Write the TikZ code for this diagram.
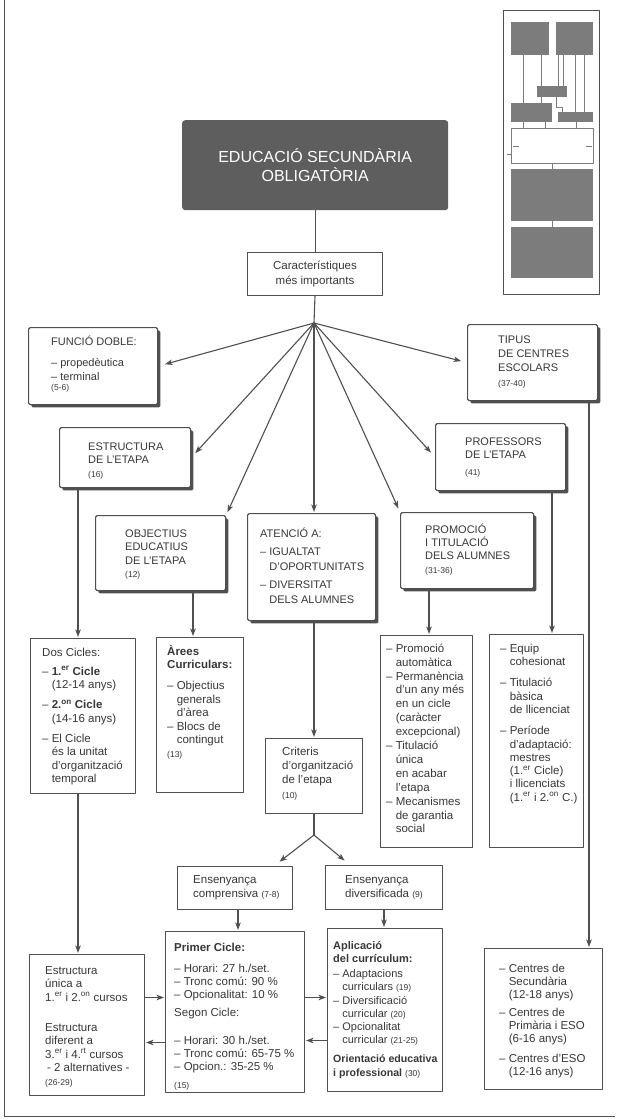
\documentclass[tikz,border=0pt]{standalone}
\usepackage{fontspec}
\setmainfont{Liberation Sans}
\usetikzlibrary{arrows.meta,shadows}
\definecolor{lc}{HTML}{505050}
\definecolor{tc}{HTML}{383838}
\definecolor{dk}{HTML}{5E5E5E}
\definecolor{tb}{HTML}{7C7C7C}
\newcommand\F[2]{\fontsize{#1}{#2}\selectfont}
\newcommand\up{\rule{0pt}{11pt}}
\newcommand\ind{\hphantom{– }}
\newcommand\sm[1]{{\fontsize{8.5}{10}\selectfont #1}}
\newcommand\su[1]{\textsuperscript{#1}}
\begin{document}
\begin{tikzpicture}[x=1pt,y=-1pt,line join=round,
  bx/.style={draw=lc, line width=1pt, fill=white, inner sep=0pt, anchor=north west},
  sbx/.style={bx, line width=1.2pt, rounded corners=1.5pt,
     drop shadow={shadow xshift=2.8pt, shadow yshift=-2.8pt, fill=lc, opacity=1}},
  tx/.style={text=tc, inner sep=0pt, anchor=north west, align=left, font=\F{11.5}{13.5}},
  captx/.style={tx, font=\F{11}{13.5}},
  ln/.style={draw=lc, line width=1.1pt},
  arr/.style={ln, -{Stealth[length=7.5pt,width=5.5pt,inset=2pt]}, shorten >=1pt}]
\useasboundingbox (0,0) rectangle (617,1119);
\fill[white] (0,0) rectangle (617,1119);

% frame
\draw[lc, line width=0.8pt] (4,0) -- (4,1116) -- (615,1116);

% thumbnail
\draw[lc, line width=0.8pt] (503,10) rectangle (599,294);
\fill[tb] (511,22) rectangle (549,55);
\fill[tb] (556,22) rectangle (593,55);
\fill[tb] (537,86) rectangle (567,97);
\fill[tb] (511,103) rectangle (552,122);
\fill[tb] (558,112) rectangle (593,122);
\fill[tb] (511,169) rectangle (593,221);
\fill[tb] (511,227) rectangle (593,278);
\draw[tb, line width=0.8pt] (511,128) rectangle (593,163);
\draw[tb, line width=0.9pt] (523,55)--(523,103) (541,55)--(541,86) (558,55)--(558,86)
  (563,55)--(563,86) (575,55)--(575,112) (584,55)--(584,112) (541,97)--(541,103)
  (556,97)--(556,107)--(562,107)--(562,112) (523,122)--(523,128) (545,122)--(545,128)
  (576,122)--(576,128) (552,163)--(552,169) (552,221)--(552,227)
  (513,146)--(519,146) (586,146)--(592,146) (507,154)--(511,154);

% title
\node[anchor=north west, fill=dk, rounded corners=3pt, minimum width=266pt, minimum height=90pt,
      text=white, align=center, font=\F{16}{19.5}, inner sep=0pt] (title) at (182,120)
      {EDUCACIÓ SECUNDÀRIA\\OBLIGATÒRIA};
\node[bx, minimum width=135pt, minimum height=43pt, align=center, text=tc, font=\F{11.5}{15}] (carac) at (247,252)
      {Característiques\\més importants};

% shadow boxes
\node[sbx, minimum width=129pt, minimum height=77pt] (funcio) at (28,327) {};
\node[sbx, minimum width=131pt, minimum height=60pt] (estruct) at (59,427) {};
\node[sbx, minimum width=130pt, minimum height=75pt] (object) at (95,515) {};
\node[sbx, minimum width=128pt, minimum height=107pt] (atencio) at (247,513) {};
\node[sbx, minimum width=133pt, minimum height=76pt] (promo) at (400,512) {};
\node[sbx, minimum width=130pt, minimum height=67pt] (profs) at (435,423) {};
\node[sbx, minimum width=130pt, minimum height=76pt] (tipus) at (467,324) {};

% plain boxes
\node[bx, minimum width=105pt, minimum height=155pt] (dos) at (30,638) {};
\node[bx, minimum width=87pt, minimum height=155pt] (arees) at (156,637) {};
\node[bx, minimum width=97pt, minimum height=75pt] (crit) at (265,738) {};
\node[bx, minimum width=92pt, minimum height=212pt] (plist) at (380,635) {};
\node[bx, minimum width=94pt, minimum height=213pt] (proflist) at (489,634) {};
\node[bx, minimum width=115pt, minimum height=43pt] (compr) at (177,866) {};
\node[bx, minimum width=117pt, minimum height=44pt] (divers) at (325,865) {};
\node[bx, minimum width=115pt, minimum height=141pt] (estunica) at (29,954) {};
\node[bx, minimum width=139pt, minimum height=161pt] (primer) at (165,931) {};
\node[bx, minimum width=115pt, minimum height=163pt] (aplic) at (327,928) {};
\node[bx, minimum width=118pt, minimum height=141pt] (centres) at (484,948) {};

% texts
\node[captx] (tfuncio) at (51,334) {\up FUNCIÓ DOBLE:\\[8pt]{\F{11}{14}– propedèutica}\\{\F{11}{14}– terminal}\\[-3pt]\sm{(5-6)}};
\node[captx] (testruct) at (88,439) {\up ESTRUCTURA\\DE L'ETAPA\\\sm{(16)}};
\node[captx] (tobject) at (125,526) {\up OBJECTIUS\\EDUCATIUS\\DE L'ETAPA\\\sm{(12)}};
\node[captx, font=\F{11}{15}] (tatencio) at (260,526) {\up ATENCIÓ A:\\[3pt]– IGUALTAT\\\ind D'OPORTUNITATS\\[3pt]– DIVERSITAT\\\ind DELS ALUMNES};
\node[captx, font=\F{11}{13.3}] (tpromo) at (425,522) {\up PROMOCIÓ\\I TITULACIÓ\\DELS ALUMNES\\\sm{(31-36)}};
\node[captx] (tprofs) at (465,434) {\up PROFESSORS\\DE L'ETAPA\\[3pt]\sm{(41)}};
\node[captx, font=\F{11}{14.3}] (ttipus) at (498,332) {\up TIPUS\\DE CENTRES\\ESCOLARS\\\sm{(37-40)}};

\node[tx] (tdos) at (42,645) {\up Dos Cicles:\\[5.5pt]
– \textbf{1.\su{er} Cicle}\\
\ind (12-14 anys)\\[6.5pt]
– \textbf{2.\su{on} Cicle}\\
\ind (14-16 anys)\\[6.5pt]
– El Cicle\\
\ind és la unitat\\
\ind d'organització\\
\ind temporal};

\node[tx, font=\F{11.5}{13.6}] (tarees) at (167,644) {\up \textbf{Àrees}\\
\textbf{Curriculars:}\\[7pt]
– Objectius\\
\ind generals\\
\ind d'àrea\\
– Blocs de\\
\ind contingut\\
\sm{(13)}};

\node[tx, font=\F{11.5}{14.3}] (tcrit) at (282,744) {\up Criteris\\d'organització\\de l'etapa\\\sm{(10)}};

\node[tx, font=\F{11.5}{13.9}] (tplist) at (386,641) {\up – Promoció\\
\ind automàtica\\
– Permanència\\
\ind d'un any més\\
\ind en un cicle\\
\ind (caràcter\\
\ind excepcional)\\
– Titulació\\
\ind única\\
\ind en acabar\\
\ind l'etapa\\
– Mecanismes\\
\ind de garantia\\
\ind social};

\node[tx, font=\F{11.5}{13.3}] (tproflist) at (500,641) {\up – Equip\\
\ind cohesionat\\[8pt]
– Titulació\\
\ind bàsica\\
\ind de llicenciat\\[8pt]
– Període\\
\ind d'adaptació:\\
\ind mestres\\
\ind (1.\su{er} Cicle)\\
\ind i llicenciats\\
\ind (1.\su{er} i 2.\su{on} C.)};

\node[tx, font=\F{11.5}{14}] (tcompr) at (193,872) {\up Ensenyança\\comprensiva \sm{(7-8)}};
\node[tx, font=\F{11.5}{14}] (tdivers) at (345,872) {\up Ensenyança\\diversificada \sm{(9)}};

\node[tx] (testunica) at (45,963) {\up Estructura\\
única a\\
1.\su{er} i 2.\su{on} cursos\\[16.5pt]
Estructura\\
diferent a\\
3.\su{er} i 4.\su{rt} cursos\\
\,- 2 alternatives -\\
\sm{(26-29)}};

\node[tx, font=\F{11.5}{13}] (tprimer) at (174,940) {\up \textbf{Primer Cicle:}\\[8pt]
– Horari: 27 h./set.\\
– Tronc comú: 90 \%\\
– Opcionalitat: 10 \%\\[5pt]
Segon Cicle:\\[15pt]
– Horari: 30 h./set.\\
– Tronc comú: 65-75 \%\\
– Opcion.: 35-25 \%\\[5pt]
\sm{(15)}};

\node[tx, font=\F{11}{13.2}] (taplic) at (333,938) {\up \textbf{Aplicació}\\
\textbf{del currículum:}\\[2pt]
– Adaptacions\\
\ind curriculars \sm{(19)}\\
– Diversificació\\
\ind curricular \sm{(20)}\\
– Opcionalitat\\
\ind curricular \sm{(21-25)}\\[6pt]
{\F{10.6}{13}\textbf{Orientació educativa}}\\
{\F{10.6}{13}\textbf{i professional}} \sm{(30)}};

\node[tx, font=\F{11.5}{13.3}] (tcentres) at (499,961) {\up – Centres de\\
\ind Secundària\\
\ind (12-18 anys)\\[4pt]
– Centres de\\
\ind Primària i ESO\\
\ind (6-16 anys)\\[6pt]
– Centres d'ESO\\
\ind (12-16 anys)};

% connectors
\coordinate (hub) at (314,323);
\coordinate (split) at (314,835);
\draw[ln] (title.south) -- (title.south |- carac.north);
\draw[ln] (carac.south) -- (hub);
\draw[arr, shorten >=7pt] (hub) -- (funcio.east);
\draw[arr, shorten >=6pt] (hub) -- (estruct.east);
\draw[arr, shorten >=3pt] (hub) -- (object.north east);
\draw[arr] (hub) -- (hub |- atencio.north);
\draw[arr, shorten >=4pt] (hub) -- (promo.north west);
\draw[arr, shorten >=6pt] (hub) -- (profs.west);
\draw[arr, shorten >=6pt] (hub) -- (tipus.west);

\coordinate (e1) at ([xshift=19pt]estruct.south west);
\draw[arr] (e1) -- (e1 |- dos.north);
\coordinate (e2) at (e1 |- dos.south);
\draw[arr] (e2) -- (e2 |- estunica.north);
\coordinate (o1) at ([xshift=98pt]object.south west);
\draw[arr] (o1) -- (o1 |- arees.north);
\draw[arr] (hub |- atencio.south) -- (hub |- crit.north);
\draw[ln] (hub |- crit.south) -- (split);
\draw[arr, shorten >=7pt] (split) -- ([xshift=-19pt]compr.north east);
\draw[arr, shorten >=7pt] (split) -- ([xshift=25pt]divers.north west);
\coordinate (c1) at ([xshift=3pt]compr.south);
\draw[arr] (c1) -- (c1 |- primer.north);
\draw[arr] (divers.south) -- (divers.south |- aplic.north);
\coordinate (p1) at ([xshift=29pt]promo.south west);
\draw[arr] (p1) -- (p1 |- plist.north);
\coordinate (p2) at ([xshift=117pt]profs.south west);
\draw[arr] (p2) -- (p2 |- proflist.north);
\coordinate (p3) at ([xshift=122pt]tipus.south west);
\draw[arr] (p3) -- (p3 |- centres.north);

\coordinate (h1) at ([yshift=27.5pt]estunica.east);
\draw[arr] (h1) -- (h1 -| primer.west);
\coordinate (h2) at ([yshift=-30.5pt]primer.west);
\draw[arr] (h2) -- (h2 -| estunica.east);
\coordinate (h3) at ([yshift=14.5pt]primer.east);
\draw[arr] (h3) -- (h3 -| aplic.west);
\coordinate (h4) at ([yshift=-30.5pt]aplic.west);
\draw[arr] (h4) -- (h4 -| primer.east);
\end{tikzpicture}
\end{document}
